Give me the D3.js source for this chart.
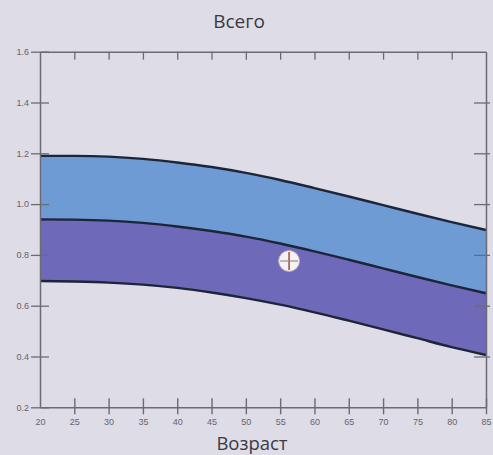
<!DOCTYPE html>
<html>
<head>
<meta charset="utf-8">
<script src="https://cdn.jsdelivr.net/npm/d3@7"></script>
<style>
  body { margin: 0; background: #dedce6; }
  svg { display: block; }
</style>
</head>
<body>
<div id="chart"></div>
<script>
// age grid and the three boundary curves
var ages = [20, 25, 30, 35, 40, 45, 50, 55, 60, 65, 70, 75, 80, 85]
var upper = [1.19, 1.19, 1.187, 1.178, 1.164, 1.146, 1.123, 1.095, 1.063, 1.03, 0.996, 0.962, 0.929, 0.898]
var middle = [0.94, 0.939, 0.935, 0.926, 0.912, 0.894, 0.872, 0.845, 0.814, 0.781, 0.747, 0.713, 0.68, 0.649]
var lower = [0.697, 0.695, 0.691, 0.683, 0.67, 0.652, 0.63, 0.604, 0.574, 0.541, 0.507, 0.472, 0.437, 0.406]
var yTicks = [0.2, 0.4, 0.6, 0.8, 1.0, 1.2, 1.4, 1.6]
var marker = { age: 56.3, value: 0.776 }
var title = "Всего"
var xLabel = "Возраст"

var width = 493
var height = 455
var margin = ({ top: 51.7, right: 7, bottom: 47.7, left: 40 })

var rows = ages.map((a, i) => ({ age: a, up: upper[i], mid: middle[i], low: lower[i] }))

var x = d3.scaleLinear()
  .domain([20, 85])
  .range([margin.left, width - margin.right])

var y = d3.scaleLinear()
  .domain([0.2, 1.6])
  .range([height - margin.bottom, margin.top])

var svg = d3.select("#chart").append("svg")
  .attr("width", width)
  .attr("height", height)

// bands
var bandTop = d3.area()
  .curve(d3.curveMonotoneX)
  .x(d => x(d.age))
  .y0(d => y(d.mid))
  .y1(d => y(d.up))

var bandBottom = d3.area()
  .curve(d3.curveMonotoneX)
  .x(d => x(d.age))
  .y0(d => y(d.low))
  .y1(d => y(d.mid))

svg.append("path")
  .datum(rows)
  .attr("fill", "#6f9bd4")
  .attr("d", bandTop)

svg.append("path")
  .datum(rows)
  .attr("fill", "#6e69b9")
  .attr("d", bandBottom)

var lineOf = key => d3.line()
  .curve(d3.curveMonotoneX)
  .x(d => x(d.age))
  .y(d => y(d[key]))

;["up", "mid", "low"].forEach(k => {
  svg.append("path")
    .datum(rows)
    .attr("fill", "none")
    .attr("stroke", "#1d2538")
    .attr("stroke-width", 2.4)
    .attr("d", lineOf(k))
})

// axes
var axisColor = "#6c6b74"

svg.append("g")
  .attr("transform", `translate(0,${y(0.2)})`)
  .call(d3.axisBottom(x).tickValues(ages).tickSize(0).tickFormat(d3.format("d")))
  .call(g => g.select(".domain").attr("stroke", axisColor).attr("stroke-width", 1.5))
  .call(g => g.selectAll(".tick line").attr("stroke", axisColor).attr("stroke-width", 1.4)
    .attr("y1", d => d == 20 ? 0 : -9).attr("y2", d => d == 20 ? 0 : 7))
  .call(g => g.selectAll(".tick text").attr("y", 11).attr("fill", "#66646c")
    .attr("font-family", "Liberation Sans, Arial, sans-serif").attr("font-size", 9))

svg.append("g")
  .attr("transform", `translate(0,${y(1.6)})`)
  .call(d3.axisTop(x).tickValues(ages.slice(1, -1)).tickSize(0).tickFormat(""))
  .call(g => g.select(".domain").attr("stroke", axisColor).attr("stroke-width", 1.5))
  .call(g => g.selectAll(".tick line").attr("stroke", axisColor).attr("stroke-width", 1.3)
    .attr("y1", 0).attr("y2", 8))

svg.append("g")
  .attr("transform", `translate(${x(20)},0)`)
  .call(d3.axisLeft(y).tickValues(yTicks).tickSize(0).tickFormat(d3.format(".1f")))
  .call(g => g.select(".domain").attr("stroke", axisColor).attr("stroke-width", 1.5))
  .call(g => g.selectAll(".tick line").attr("stroke", axisColor).attr("stroke-width", 1.3)
    .attr("x1", -9).attr("x2", 9))
  .call(g => g.selectAll(".tick text").attr("x", -11).attr("fill", "#66646c")
    .attr("font-family", "Liberation Sans, Arial, sans-serif").attr("font-size", 9))

svg.append("g")
  .attr("transform", `translate(${x(85)},0)`)
  .call(d3.axisRight(y).tickValues(yTicks.slice(1, -1)).tickSize(0).tickFormat(""))
  .call(g => g.select(".domain").attr("stroke", axisColor).attr("stroke-width", 1.5))
  .call(g => g.selectAll(".tick line").attr("stroke", axisColor).attr("stroke-width", 1.3)
    .attr("x1", -12).attr("x2", 4))

// marker
var m = svg.append("g")
  .attr("transform", `translate(${x(marker.age)},${y(marker.value)})`)

m.append("circle")
  .attr("r", 10.5)
  .attr("fill", "#f4f2f4")
  .attr("stroke", "#b8a8a8")
  .attr("stroke-width", 1)

m.append("line")
  .attr("x1", 0).attr("x2", 0).attr("y1", -9).attr("y2", 9)
  .attr("stroke", "#b06a50").attr("stroke-width", 1.8)

m.append("line")
  .attr("x1", -9).attr("x2", 9).attr("y1", 0).attr("y2", 0)
  .attr("stroke", "#9a8a90").attr("stroke-width", 1.2)

// titles
svg.append("text")
  .attr("x", 239)
  .attr("y", 28)
  .attr("text-anchor", "middle")
  .attr("font-family", "Open Sans, sans-serif")
  .attr("font-size", 19)
  .attr("fill", "#3a3942")
  .text(title)

svg.append("text")
  .attr("x", 252)
  .attr("y", 450)
  .attr("text-anchor", "middle")
  .attr("font-family", "Open Sans, sans-serif")
  .attr("font-size", 18.5)
  .attr("fill", "#3a3942")
  .text(xLabel)
</script>
</body>
</html>
